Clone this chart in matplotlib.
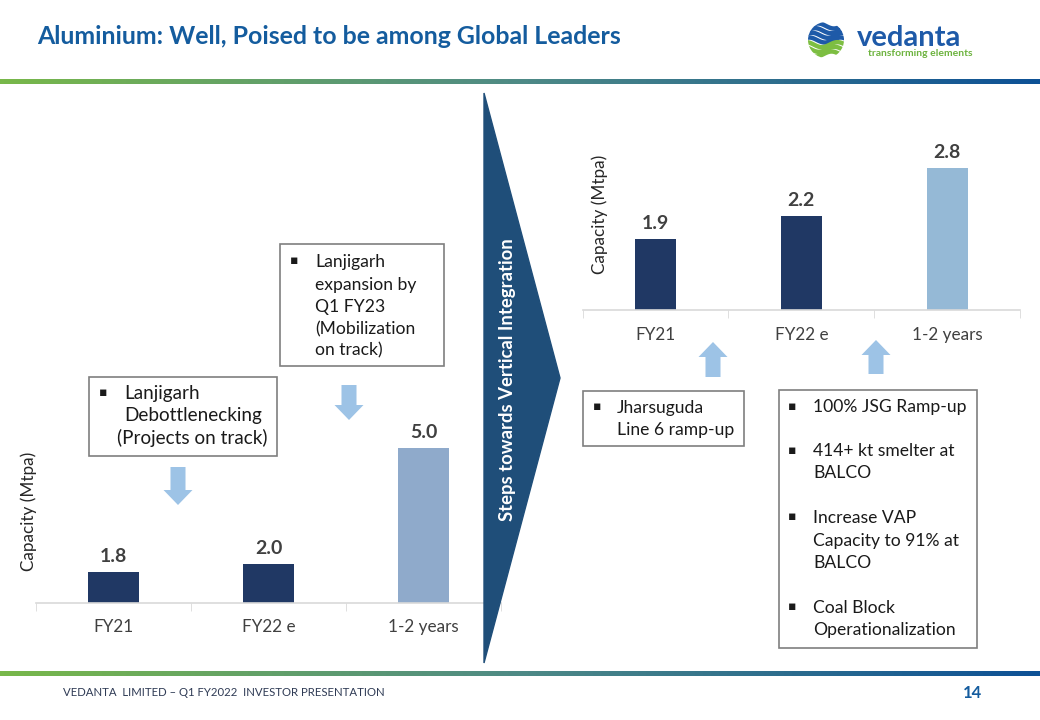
import matplotlib
matplotlib.use("Agg")
import matplotlib.pyplot as plt
import numpy as np
from matplotlib.patches import Polygon, Rectangle, FancyArrow, Circle

plt.rcParams['font.family'] = ['Lato', 'DejaVu Sans']

# data
categories = ["FY21", "FY22 e", "1-2 years"]
alumina_capacity = [1.8, 2.0, 5.0]
aluminium_capacity = [1.9, 2.2, 2.8]
alumina_colors = ['#203864', '#203864', '#8FAACB']
aluminium_colors = ['#203864', '#203864', '#95B9D6']

title = "Aluminium: Well, Poised to be among Global Leaders"
footer = "VEDANTA  LIMITED \u2013 Q1 FY2022  INVESTOR PRESENTATION"
page_no = "14"
chevron_text = "Steps towards Vertical Integration"

box_debottleneck = ["Lanjigarh", "Debottlenecking", "(Projects on track)"]
box_expansion = ["Lanjigarh", "expansion by", "Q1 FY23", "(Mobilization", "on track)"]
box_jharsuguda = ["Jharsuguda", "Line 6 ramp-up"]
box_balco = [["100% JSG Ramp-up"],
             ["414+ kt smelter at", "BALCO"],
             ["Increase VAP", "Capacity to 91% at", "BALCO"],
             ["Coal Block", "Operationalization"]]

W, H = 1040, 720
fig = plt.figure(figsize=(W / 100, H / 100), dpi=100)


def add_px_axes(left, right, bottom, top):
    return fig.add_axes([left / W, 1 - bottom / H, (right - left) / W, (bottom - top) / H])


def bar_chart(ax, values, colors, width, ymax):
    x = np.arange(len(categories))
    bars = ax.bar(x, np.array(values) - 1.0, bottom=1.0, width=width, color=colors, zorder=2)
    ax.bar_label(bars, labels=[f"{v:.1f}" for v in values], padding=5,
                 fontsize=14, fontweight='bold', color='#404040')
    ax.set_xlim(-0.5, len(categories) - 0.5)
    ax.set_ylim(1.0, ymax)
    ax.set_xticks(x)
    ax.set_xticklabels(categories, fontsize=12.3, color='#404040')
    ax.set_xticks(np.arange(len(categories) + 1) - 0.5, minor=True)
    ax.tick_params(axis='x', which='major', length=0, pad=12)
    ax.tick_params(axis='x', which='minor', length=6, color='#D9D9D9', direction='out')
    ax.set_yticks([])
    for s in ['left', 'right', 'top']:
        ax.spines[s].set_visible(False)
    ax.spines['bottom'].set_color('#D9D9D9')
    ax.spines['bottom'].set_linewidth(1.2)
    ax.patch.set_alpha(0)


# left chart (scale ~38.8 px per Mtpa, baseline 1.0)
ax1 = add_px_axes(36, 501, 602.7, 602.7 - 4.6 * 38.8)
bar_chart(ax1, alumina_capacity, alumina_colors, 0.33, 5.6)

# right chart (scale ~78.7 px per Mtpa, baseline 1.0)
ax2 = add_px_axes(582.7, 1020, 310, 310 - 2.2 * 78.7)
bar_chart(ax2, aluminium_capacity, aluminium_colors, 0.28, 3.2)

# overlay for slide decorations, 1 unit = 1 px
bg = fig.add_axes([0, 0, 1, 1], zorder=5)
bg.axis('off')
bg.patch.set_alpha(0)

bg.text(37, 37, title, fontsize=17.9, fontweight='bold', color='#145C9E', va='center', ha='left')

# gradient rules
grad = np.linspace(0, 1, 256).reshape(1, -1)
cmap = matplotlib.colors.LinearSegmentedColormap.from_list('vg', ['#78B84A', '#4E8A86', '#0D5196'])
for yc in (82.3, 674.3):
    bg.imshow(grad, cmap=cmap, extent=(0, W, yc + 2.2, yc - 2.2), aspect='auto', zorder=1)
bg.set_xlim(0, W)
bg.set_ylim(H, 0)

# logo
cx, cy, r = 826, 40, 18
emblem = Circle((cx, cy), r, transform=bg.transData)
t = np.linspace(cx - r, cx + r, 80)
for i, off in enumerate(np.linspace(-14, 14, 7)):
    col = '#1E5AA8' if i < 4 else '#7DBE42'
    ln, = bg.plot(t, cy + off + 2.5 * np.sin((t - cx) / 5 + i * 0.6), color=col, lw=3.2, zorder=3)
    ln.set_clip_path(emblem)
bg.text(857, 38, "vedanta", fontsize=21, fontweight='bold', color='#1E5AA8', va='center', ha='left')
bg.text(868, 54, "transforming elements", fontsize=7.5, fontweight='bold', color='#6DB33F', va='center', ha='left')

# chevron
bg.add_patch(Polygon([(484, 93), (560, 378), (484, 663)], closed=True, facecolor='#1F4E79',
                     edgecolor='#1F4E79', zorder=4))
bg.text(507, 380, chevron_text, rotation=90, fontsize=13.3, fontweight='bold', color='white',
        va='center', ha='center', zorder=5)


def text_box(x0, x1, y0, y1, lines, ys, bullet_x, text_x, bullet_rows=(0,), xs=None, size=12.6):
    bg.add_patch(Rectangle((x0, y0), x1 - x0, y1 - y0, facecolor='white', edgecolor='#7F7F7F',
                           lw=1.2, zorder=4))
    for k, (line, y) in enumerate(zip(lines, ys)):
        tx = text_x if xs is None else xs[k]
        bg.text(tx, y, line, fontsize=size, color='#1A1A1A', va='center', ha='left', zorder=6)
        if k in bullet_rows:
            bg.text(bullet_x, y - 1, "\u25aa", fontsize=9, color='#1A1A1A', va='center', ha='center',
                    family='DejaVu Sans', zorder=6)


def block_arrow(x, y_from, y_to):
    bg.add_patch(FancyArrow(x, y_from, 0, y_to - y_from, width=15, head_width=29, head_length=15,
                            length_includes_head=True, facecolor='#9DC3E6', edgecolor='none', zorder=4))


text_box(89, 277, 377, 456, box_debottleneck, [393, 416, 438], 103, 124, xs=[124, 124, 117], size=13.6)
block_arrow(178, 467, 505)
text_box(280, 444, 244, 366, box_expansion, [262, 285, 307, 329, 350], 294, 315)
block_arrow(349, 385, 420)

text_box(583, 744, 391, 446, box_jharsuguda, [408, 430], 597, 617)
block_arrow(713, 377, 342)

balco_lines, balco_bullets = [], []
for grp in box_balco:
    balco_bullets.append(len(balco_lines))
    balco_lines.extend(grp)
text_box(779, 977, 390, 648, balco_lines, [407, 451, 473, 518, 541, 563, 608, 630], 792, 813,
         bullet_rows=balco_bullets)
block_arrow(876, 374, 340)

# y labels
bg.text(29, 511, "Capacity (Mtpa)", rotation=90, fontsize=12.3, color='#262626', va='center', ha='center')
bg.text(600, 214, "Capacity (Mtpa)", rotation=90, fontsize=12.3, color='#262626', va='center', ha='center')

# footer
bg.text(63, 693, footer, fontsize=8.2, color='#2F3B55', va='center', ha='left')
bg.text(982, 693, page_no, fontsize=12, fontweight='bold', color='#145C9E', va='center', ha='right')

fig.savefig("out.png", dpi=100)
